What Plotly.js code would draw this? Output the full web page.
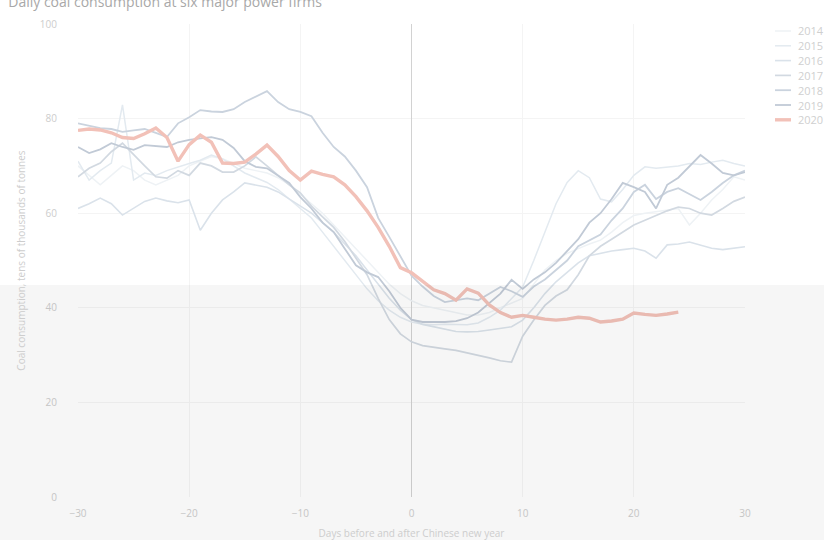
<!DOCTYPE html>
<html>
<head>
<meta charset="utf-8">
<script src="https://cdn.plot.ly/plotly-3.0.1.min.js"></script>
<style>html,body{margin:0;padding:0;background:#fff;}#chart{width:824px;height:540px;}</style>
</head>
<body>
<div id="chart"></div>
<script>
const days = [];
for (let d = -30; d <= 30; d++) days.push(d);
const days2020 = days.slice(0, 55); // -30 .. 24

const y2014 = [70,68,66,68,70,69,67,66,67,68,70,71,72,71.5,70.5,69.5,69,68.5,67.5,66,64,62,60,57.5,55,52.5,50,47.5,45,43,41.5,40.5,40,39.5,39,38.5,38.5,39,40,41,42,45,48,50,51.5,52.5,53.5,54.3,56,58,59.5,60,60.3,60.6,61,57.5,60,62.8,65,67.7,67];
const y2015 = [71,67,69,70.6,82.9,67,68.5,68,69,69.8,70.5,71.2,72.3,71.5,70,68.5,67.5,66.5,65,63,61,59,56,53,50,47,44,41.5,39.5,38,37,36.5,36.4,36.5,36.5,36.4,36.8,38,39.5,42,44.4,50,56,62,66.5,69,67.5,63,62.4,65,68,69.8,69.5,69.8,70,70.5,70.3,70.8,71.2,70.5,70];
const y2016 = [61,62,63.2,62,59.6,61,62.5,63.2,62.6,62.2,62.8,56.4,60,62.8,64.5,66.4,66,65.5,64.5,63,61.5,60,58,56,53.5,51,48,45,42,39.5,37.5,36.5,36,35.5,35,34.9,35,35.3,35.7,36,37.4,40,43,45.5,47.5,49.5,51,51.5,52,52.3,52.6,52,50.5,53.3,53.5,53.9,53.2,52.6,52.3,52.6,52.9];
const y2017 = [67.7,69.5,70.6,73,74.8,72.3,70,67.7,67.4,69,68,70.6,70,68.7,68.7,70,71.9,70,68,66,64.3,61.5,59.2,57,54,50.5,47,42,37.5,34.5,32.8,32,31.6,31.3,31,30.5,30,29.4,28.8,28.5,34,37.4,40.5,42.5,43.8,47,51,53,54.5,56,57.5,58.5,59.5,60.5,61.3,61,60,59.6,61,62.5,63.4];
const y2018 = [79,78.5,78,77.8,77.2,77.5,77.8,77,76.1,79,80.3,81.8,81.5,81.4,82,83.5,84.6,85.8,83.5,82,81.4,80.5,77,74,72,69,65.5,59,55,51,46.8,44.5,42.5,41.2,41.6,42,41.6,43,44.4,43.5,42.3,44.5,46,48,50,53,54.3,55.5,58.5,61,64.5,66,63,64.5,65.3,64,62.8,64.5,66.4,68,69];
const y2019 = [74,72.7,73.5,74.8,74,73.4,74.4,74.2,74,75,75.5,75.8,76.1,75.5,73.8,71,69.8,69.5,68,66.4,63.4,61,58,56,52.5,49,47.5,46.5,43.5,40,37.5,37,37,37,37.2,37.8,39,41,43,45.9,44,46,47.5,49.5,52,54.5,58,60,63,66.4,65.5,64.5,61,66,67.5,70,72.3,70.5,68.5,68,68.7];
const y2020 = [77.5,77.8,77.6,77,76,75.8,76.8,78,76,71,74.5,76.5,75,70.6,70.5,70.8,72.5,74.4,72,69,67,68.9,68.2,67.7,66,63.5,60.5,57,53,48.5,47.4,45.5,43.8,43,41.6,44,43.1,40.6,39,38,38.4,38,37.6,37.4,37.6,38,37.8,37,37.2,37.6,38.9,38.6,38.4,38.7,39.1];

const years = ['2014','2015','2016','2017','2018','2019','2020'];
const series = [y2014,y2015,y2016,y2017,y2018,y2019,y2020];
const colors = ['#eef2f5','#e3eaf0','#dae2ea','#d2d9e1','#cad3de','#c1cad6','#f2c1b8'];
const widths = [1.5,1.5,1.6,1.7,1.8,1.8,3.4];

const traces = years.map((yr, i) => ({
  type: 'scatter', mode: 'lines', name: yr,
  x: yr === '2020' ? days2020 : days,
  y: series[i],
  line: {color: colors[i], width: widths[i]},
  hoverinfo: 'skip', showlegend: false
}));

// compact legend drawn in paper coordinates (plot area 78..745 x 24..497 px)
const pxX = px => (px - 78) / 667;
const pxY = py => (497 - py) / 473;
const legendShapes = years.map((yr, i) => ({
  type: 'line', xref: 'paper', yref: 'paper',
  x0: pxX(775), x1: pxX(791), y0: pxY(31 + 14.8 * i), y1: pxY(31 + 14.8 * i),
  line: {color: colors[i], width: widths[i]}
}));
const legendAnn = years.map((yr, i) => ({
  text: yr, xref: 'paper', yref: 'paper', x: pxX(796), y: pxY(31 + 14.8 * i),
  xanchor: 'left', yanchor: 'middle', showarrow: false,
  font: {family: 'Open Sans, sans-serif', size: 11, color: '#cfcfcf'}
}));

const font = {family: 'Open Sans, sans-serif', color: '#cdcdcd', size: 10};

const layout = {
  width: 824, height: 540,
  margin: {l: 78, r: 79, t: 24, b: 43, autoexpand: false},
  paper_bgcolor: '#ffffff', plot_bgcolor: '#ffffff',
  font: font, showlegend: false,
  title: {text: 'Daily coal consumption at six major power firms', x: 0.01, xanchor: 'left', xref: 'container', y: 0.996, yanchor: 'middle', yref: 'container', font: {family: 'Open Sans, sans-serif', size: 14, color: '#a8a8a8'}},
  xaxis: {range: [-30, 30], tickvals: [-30,-20,-10,0,10,20,30], showgrid: true, gridcolor: '#f4f4f4', zeroline: true, zerolinecolor: '#d2d2d2', zerolinewidth: 1.2, showline: false, ticks: '', tickfont: font, ticklabelstandoff: 9,
    title: {text: 'Days before and after Chinese new year', font: font, standoff: 14}},
  yaxis: {range: [0, 100], tickvals: [0,20,40,60,80,100], showgrid: true, gridcolor: '#f4f4f4', zeroline: false, showline: false, ticks: '', tickfont: font, ticklabelstandoff: 20,
    title: {text: 'Coal consumption, tens of thousands of tonnes', font: font, standoff: 12}},
  annotations: legendAnn,
  shapes: legendShapes.concat([{type: 'rect', xref: 'paper', yref: 'paper', x0: -0.2, x1: 1.25, y0: -0.12, y1: 0.448, fillcolor: 'rgba(0,0,0,0.035)', line: {width: 0}, layer: 'above'}])
};

Plotly.newPlot('chart', traces, layout, {displayModeBar: false, staticPlot: true});
</script>
</body>
</html>
